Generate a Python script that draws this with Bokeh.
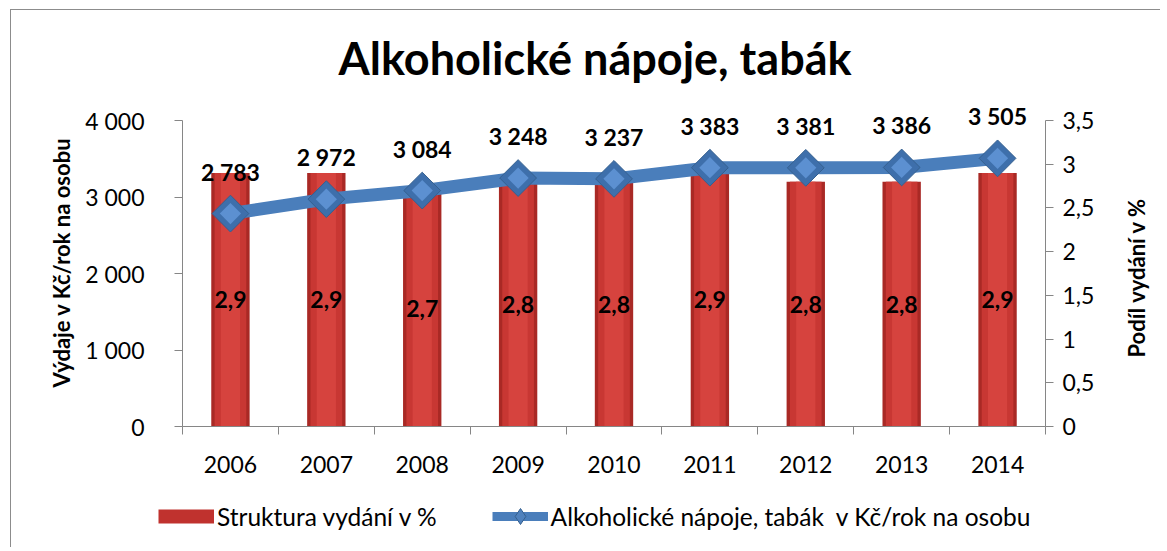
import math
from bokeh.plotting import figure
from bokeh.layouts import column, row
from bokeh.models import (Range1d, LinearAxis, FixedTicker, CustomJSTickFormatter,
                          ColumnDataSource, LabelSet, Label, Legend, LegendItem)
from bokeh.embed import file_html
from bokeh.resources import INLINE
from bokeh.core.properties import value

# ---- data -----------------------------------------------------------------
years = ["2006", "2007", "2008", "2009", "2010", "2011", "2012", "2013", "2014"]
spend = [2783, 2972, 3084, 3248, 3237, 3383, 3381, 3386, 3505]   # Kč/rok na osobu
share = [2.9, 2.9, 2.7, 2.8, 2.8, 2.9, 2.8, 2.8, 2.9]              # % struktura
left_ticks = [0, 1000, 2000, 3000, 4000]
right_ticks = [0, 0.5, 1, 1.5, 2, 2.5, 3, 3.5]

title_text = "Alkoholické nápoje, tabák"
left_title = "Výdaje v Kč/rok na osobu"
right_title = "Podíl vydání v %"
bar_name = "Struktura vydání v %"
line_name = "Alkoholické nápoje, tabák  v Kč/rok na osobu"

FONT = "Lato"
AXIS_GRAY = "#868686"
BORDER = "1px solid #8c8c8c"

# ---- layout constants (pixels) -------------------------------------------
W = 1150
W_MAIN = 1104
W_SIDE = W - W_MAIN
H_MAIN, H_LEG = 478, 60
F_LEFT, F_RIGHT = 171, 1034
F_TOP, AX_TOP, AX_BOT = 88, 110, 416      # frame top, 4000-tick, 0-tick
stretch = (AX_BOT - F_TOP) / (AX_BOT - AX_TOP)

x = list(range(len(years)))
src = ColumnDataSource(dict(
    x=x, spend=spend, share=share,
    half=[s / 2 for s in share],
    spend_lbl=[f"{v:,}".replace(",", " ") for v in spend],
    share_lbl=[f"{v:.1f}".replace(".", ",") for v in share],
))

p = figure(width=W_MAIN, height=H_MAIN, output_backend="svg", toolbar_location=None,
           x_range=Range1d(-0.5, len(years) - 0.5),
           y_range=Range1d(left_ticks[0], left_ticks[-1] * stretch),
           min_border_left=F_LEFT, min_border_right=W_MAIN - F_RIGHT,
           min_border_top=F_TOP, min_border_bottom=H_MAIN - AX_BOT,
           title=title_text)
p.extra_y_ranges = {"pct": Range1d(right_ticks[0], right_ticks[-1] * stretch)}
p.styles = {"border-left": BORDER, "border-top": BORDER}
p.outline_line_color = None
p.xgrid.visible = False
p.ygrid.visible = False
p.background_fill_color = "white"
p.border_fill_color = "white"

p.title.align = "left"
p.title.offset = 156
p.title.text_font = FONT
p.title.text_font_style = "bold"
p.title.text_font_size = "45px"
p.title.text_color = "black"
p.title.standoff = 28

# ---- bars (right axis, %) -------------------------------------------------
p.vbar(x="x", top="share", bottom=0, width=0.40, source=src,
       y_range_name="pct", fill_color="#A92925", line_color=None)
p.vbar(x="x", top="share", bottom=0, width=0.33, source=src,
       y_range_name="pct", fill_color="#C83733", line_color=None)
p.vbar(x="x", top="share", bottom=0, width=0.20, source=src,
       y_range_name="pct", fill_color="#D6433E", line_color=None)

# ---- line (left axis, Kč) -------------------------------------------------
p.line(x="x", y="spend", source=src, line_width=13, line_color="#4A7EBB")
p.scatter(x="x", y="spend", source=src, marker="square",
          angle=math.pi / 4, size=26, fill_color="#3E6FAB",
          line_color="#35608F", line_width=1)
p.scatter(x="x", y="spend", source=src, marker="square", angle=math.pi / 4,
          size=15, fill_color="#5C90D1", line_color=None)

# ---- data labels ----------------------------------------------------------
p.add_layout(LabelSet(x="x", y="spend", text="spend_lbl", source=src,
                      y_offset=42, text_align="center", text_baseline="middle",
                      text_font=value(FONT), text_font_style="bold",
                      text_font_size="23px", text_color="black"))
p.add_layout(LabelSet(x="x", y="half", text="share_lbl", source=src,
                      y_range_name="pct", text_align="center",
                      text_baseline="middle", text_font=value(FONT),
                      text_font_style="bold", text_font_size="23px",
                      text_color="black"))

# ---- axes -----------------------------------------------------------------
xa = p.xaxis[0]
xa.ticker = FixedTicker(ticks=x, minor_ticks=[i - 0.5 for i in range(len(years) + 1)])
xa.major_label_overrides = {i: y for i, y in zip(x, years)}
xa.major_tick_line_color = None
xa.major_tick_out = 0
xa.major_tick_in = 0
xa.minor_tick_line_color = AXIS_GRAY
xa.minor_tick_out = 8
xa.minor_tick_in = 0
xa.axis_line_color = AXIS_GRAY
xa.major_label_standoff = 21
xa.major_label_text_font = FONT
xa.major_label_text_font_size = "23px"
xa.major_label_text_color = "black"

ya = p.yaxis[0]
ya.bounds = (left_ticks[0], left_ticks[-1])
ya.ticker = FixedTicker(ticks=left_ticks, minor_ticks=[])
ya.formatter = CustomJSTickFormatter(
    code="return tick.toFixed(0).replace(/\\B(?=(\\d{3})+(?!\\d))/g, ' ');")
ya.axis_line_color = AXIS_GRAY
ya.major_tick_line_color = AXIS_GRAY
ya.major_tick_out = 8
ya.major_tick_in = 0
ya.minor_tick_line_color = None
ya.major_label_standoff = 30
ya.major_label_text_font = FONT
ya.major_label_text_font_size = "23px"
ya.major_label_text_color = "black"
ya.axis_label = left_title
ya.axis_label_text_font = FONT
ya.axis_label_text_font_style = "bold"
ya.axis_label_text_font_size = "22px"
ya.axis_label_text_color = "black"
ya.axis_label_standoff = 7

ra = LinearAxis(y_range_name="pct", bounds=(right_ticks[0], right_ticks[-1]),
                ticker=FixedTicker(ticks=right_ticks, minor_ticks=[]),
                formatter=CustomJSTickFormatter(
                    code="return tick.toString().replace('.', ',');"))
ra.axis_line_color = AXIS_GRAY
ra.major_tick_line_color = AXIS_GRAY
ra.major_tick_out = 8
ra.major_tick_in = 0
ra.minor_tick_line_color = None
ra.major_label_standoff = 9
ra.major_label_text_font = FONT
ra.major_label_text_font_size = "23px"
ra.major_label_text_color = "black"
p.add_layout(ra, "right")

# ---- right-hand axis title (narrow strip, reads bottom-to-top) ------------
side = figure(width=W_SIDE, height=H_MAIN, output_backend="svg", toolbar_location=None,
              x_range=Range1d(0, W_SIDE), y_range=Range1d(0, H_MAIN),
              x_axis_location=None, y_axis_location=None, min_border=0)
side.styles = {"border-top": BORDER}
side.outline_line_color = None
side.grid.visible = False
side.background_fill_color = "white"
side.border_fill_color = "white"
side.add_layout(Label(x=22, y=211, text=right_title, angle=math.pi / 2,
                      text_align="center", text_baseline="middle",
                      text_font=FONT, text_font_style="bold",
                      text_font_size="22px", text_color="black"))

# ---- legend (separate strip below the chart) -----------------------------
leg = figure(width=W, height=H_LEG, output_backend="svg", toolbar_location=None,
             x_range=Range1d(0, 1), y_range=Range1d(0, 1),
             x_axis_location=None, y_axis_location=None, min_border=0)
for fig in (p, side, leg):
    if "frame_align" in fig.properties():
        fig.frame_align = False
leg.styles = {"border-left": BORDER}
leg.outline_line_color = None
leg.grid.visible = False
leg.background_fill_color = "white"
leg.border_fill_color = "white"
off = [-10, -9]
r_bar = leg.line(x=off, y=[-10, -10], line_width=14, line_color="#C0322E", line_cap="butt")
r_line = leg.line(x=off, y=[-10, -10], line_width=9, line_color="#4A7EBB")
r_mark = leg.scatter(x=off[:1], y=[-10], marker="diamond", size=22,
                     fill_color="#4F81BD", line_color="#35608F")
legend = Legend(items=[LegendItem(label=bar_name, renderers=[r_bar]),
                       LegendItem(label=line_name, renderers=[r_line, r_mark])],
                orientation="horizontal", location=(147, 11),
                glyph_width=56, glyph_height=40, label_standoff=3, spacing=55,
                padding=0, margin=0, border_line_color=None,
                background_fill_alpha=0,
                label_text_font=FONT, label_text_font_size="24.5px",
                label_text_color="black")
leg.add_layout(legend, "center")

page = column(row(p, side), leg, margin=(9, 0, 0, 10))
open("out.html", "w").write(file_html(page, INLINE))
